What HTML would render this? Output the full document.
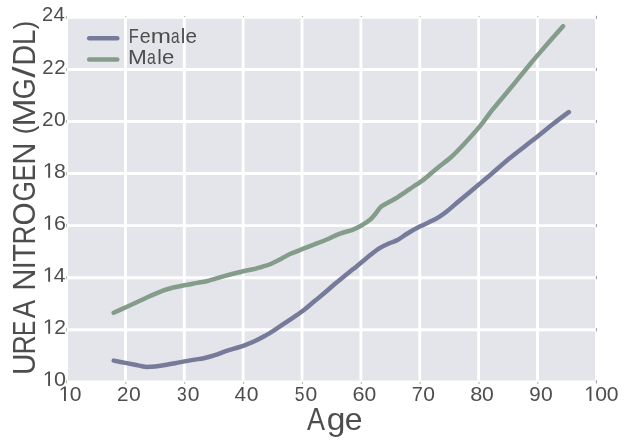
<!DOCTYPE html>
<html><head><meta charset="utf-8"><title>Urea Nitrogen by Age</title>
<style>
html,body{margin:0;padding:0;background:#fff;}
body{width:624px;height:443px;position:relative;overflow:hidden;font-family:"Liberation Sans",sans-serif;}
svg{position:absolute;left:0;top:0;}
</style></head><body>
<svg width="624" height="443" viewBox="0 0 624 443">
<rect x="68.0" y="18.8" width="527.0" height="361.7" fill="#e4e4eb"/>
<line x1="125.46" x2="125.46" y1="18.8" y2="380.5" stroke="#fff" stroke-width="2.9"/>
<line x1="184.32" x2="184.32" y1="18.8" y2="380.5" stroke="#fff" stroke-width="2.9"/>
<line x1="243.18" x2="243.18" y1="18.8" y2="380.5" stroke="#fff" stroke-width="2.9"/>
<line x1="302.04" x2="302.04" y1="18.8" y2="380.5" stroke="#fff" stroke-width="2.9"/>
<line x1="360.90" x2="360.90" y1="18.8" y2="380.5" stroke="#fff" stroke-width="2.9"/>
<line x1="419.76" x2="419.76" y1="18.8" y2="380.5" stroke="#fff" stroke-width="2.9"/>
<line x1="478.62" x2="478.62" y1="18.8" y2="380.5" stroke="#fff" stroke-width="2.9"/>
<line x1="537.48" x2="537.48" y1="18.8" y2="380.5" stroke="#fff" stroke-width="2.9"/>
<line y1="329.74" y2="329.74" x1="68.0" x2="595.0" stroke="#fff" stroke-width="2.9"/>
<line y1="277.68" y2="277.68" x1="68.0" x2="595.0" stroke="#fff" stroke-width="2.9"/>
<line y1="225.62" y2="225.62" x1="68.0" x2="595.0" stroke="#fff" stroke-width="2.9"/>
<line y1="173.56" y2="173.56" x1="68.0" x2="595.0" stroke="#fff" stroke-width="2.9"/>
<line y1="121.50" y2="121.50" x1="68.0" x2="595.0" stroke="#fff" stroke-width="2.9"/>
<line y1="69.44" y2="69.44" x1="68.0" x2="595.0" stroke="#fff" stroke-width="2.9"/>
<rect x="595.9" y="380.20" width="1.1" height="3.2" fill="#a2a2a2"/>
<rect x="66.0" y="380.20" width="1.0" height="3.2" fill="#bbb"/>
<rect x="595.9" y="328.14" width="1.1" height="3.2" fill="#a2a2a2"/>
<rect x="66.0" y="328.14" width="1.0" height="3.2" fill="#bbb"/>
<rect x="595.9" y="276.08" width="1.1" height="3.2" fill="#a2a2a2"/>
<rect x="66.0" y="276.08" width="1.0" height="3.2" fill="#bbb"/>
<rect x="595.9" y="224.02" width="1.1" height="3.2" fill="#a2a2a2"/>
<rect x="66.0" y="224.02" width="1.0" height="3.2" fill="#bbb"/>
<rect x="595.9" y="171.96" width="1.1" height="3.2" fill="#a2a2a2"/>
<rect x="66.0" y="171.96" width="1.0" height="3.2" fill="#bbb"/>
<rect x="595.9" y="119.90" width="1.1" height="3.2" fill="#a2a2a2"/>
<rect x="66.0" y="119.90" width="1.0" height="3.2" fill="#bbb"/>
<rect x="595.9" y="67.84" width="1.1" height="3.2" fill="#a2a2a2"/>
<rect x="66.0" y="67.84" width="1.0" height="3.2" fill="#bbb"/>
<rect x="595.9" y="15.78" width="1.1" height="3.2" fill="#a2a2a2"/>
<rect x="66.0" y="15.78" width="1.0" height="3.2" fill="#bbb"/>
<rect x="125.36" y="16" width="1" height="1" fill="#a6a6a6"/>
<rect x="125.36" y="382" width="1" height="2" fill="#b0b0b0"/>
<rect x="184.22" y="16" width="1" height="1" fill="#a6a6a6"/>
<rect x="184.22" y="382" width="1" height="2" fill="#b0b0b0"/>
<rect x="243.08" y="16" width="1" height="1" fill="#a6a6a6"/>
<rect x="243.08" y="382" width="1" height="2" fill="#b0b0b0"/>
<rect x="301.94" y="16" width="1" height="1" fill="#a6a6a6"/>
<rect x="301.94" y="382" width="1" height="2" fill="#b0b0b0"/>
<rect x="360.80" y="16" width="1" height="1" fill="#a6a6a6"/>
<rect x="360.80" y="382" width="1" height="2" fill="#b0b0b0"/>
<rect x="419.66" y="16" width="1" height="1" fill="#a6a6a6"/>
<rect x="419.66" y="382" width="1" height="2" fill="#b0b0b0"/>
<rect x="478.52" y="16" width="1" height="1" fill="#a6a6a6"/>
<rect x="478.52" y="382" width="1" height="2" fill="#b0b0b0"/>
<rect x="537.38" y="16" width="1" height="1" fill="#a6a6a6"/>
<rect x="537.38" y="382" width="1" height="2" fill="#b0b0b0"/>
<path d="M113.70,312.80 C115.63,311.92 121.37,309.30 125.30,307.50 C129.23,305.70 133.07,303.95 137.30,302.00 C141.53,300.05 146.53,297.67 150.70,295.80 C154.87,293.93 158.97,292.07 162.30,290.80 C165.63,289.53 167.05,289.12 170.70,288.20 C174.35,287.28 179.77,286.18 184.20,285.30 C188.63,284.42 193.42,283.62 197.30,282.90 C201.18,282.18 202.88,282.17 207.50,281.00 C212.12,279.83 219.04,277.53 225.00,275.90 C230.96,274.27 238.25,272.37 243.25,271.20 C248.25,270.03 251.88,269.63 255.00,268.90 C258.12,268.17 259.50,267.58 262.00,266.80 C264.50,266.02 266.45,265.73 270.00,264.20 C273.55,262.67 279.97,259.30 283.30,257.60 C286.63,255.90 286.88,255.40 290.00,254.00 C293.12,252.60 297.83,250.83 302.00,249.20 C306.17,247.57 310.75,245.87 315.00,244.20 C319.25,242.53 323.33,240.97 327.50,239.20 C331.67,237.43 335.83,235.17 340.00,233.60 C344.17,232.03 349.00,231.10 352.50,229.80 C356.00,228.50 358.08,227.47 361.00,225.80 C363.92,224.13 367.46,221.97 370.00,219.80 C372.54,217.63 374.38,215.02 376.25,212.80 C378.12,210.58 378.96,208.38 381.25,206.50 C383.54,204.62 387.29,203.03 390.00,201.50 C392.71,199.97 395.00,198.83 397.50,197.30 C400.00,195.77 402.58,193.93 405.00,192.30 C407.42,190.67 409.54,189.17 412.00,187.50 C414.46,185.83 417.58,183.80 419.75,182.30 C421.92,180.80 422.04,180.88 425.00,178.50 C427.96,176.12 433.12,171.58 437.50,168.00 C441.88,164.42 447.08,160.72 451.25,157.00 C455.42,153.28 457.96,150.55 462.50,145.70 C467.04,140.85 473.50,133.90 478.50,127.90 C483.50,121.90 487.67,115.73 492.50,109.70 C497.33,103.67 502.00,98.35 507.50,91.70 C513.00,85.05 520.54,75.82 525.50,69.80 C530.46,63.78 531.00,62.88 537.25,55.60 C543.50,48.33 558.71,31.06 563.00,26.15" fill="none" stroke="#849d8a" stroke-width="4.5" stroke-linecap="round" stroke-linejoin="round"/>
<path d="M113.70,360.60 C115.65,360.98 121.85,362.20 125.40,362.90 C128.95,363.60 132.23,364.25 135.00,364.80 C137.77,365.35 140.08,365.85 142.00,366.20 C143.92,366.55 145.00,366.82 146.50,366.90 C148.00,366.98 149.25,366.82 151.00,366.70 C152.75,366.58 154.67,366.48 157.00,366.20 C159.33,365.92 162.00,365.50 165.00,365.00 C168.00,364.50 171.77,363.80 175.00,363.20 C178.23,362.60 181.07,362.00 184.40,361.40 C187.73,360.80 191.78,360.13 195.00,359.60 C198.22,359.07 200.42,358.93 203.75,358.20 C207.08,357.47 211.46,356.33 215.00,355.20 C218.54,354.07 221.67,352.55 225.00,351.40 C228.33,350.25 231.96,349.23 235.00,348.30 C238.04,347.37 239.92,347.02 243.25,345.80 C246.58,344.58 251.38,342.67 255.00,341.00 C258.62,339.33 262.08,337.40 265.00,335.80 C267.92,334.20 268.75,333.82 272.50,331.40 C276.25,328.98 282.54,324.67 287.50,321.30 C292.46,317.93 297.67,314.63 302.25,311.20 C306.83,307.77 311.21,303.82 315.00,300.70 C318.79,297.58 321.67,295.32 325.00,292.50 C328.33,289.68 332.50,285.92 335.00,283.80 C337.50,281.68 337.08,282.17 340.00,279.80 C342.92,277.43 349.00,272.43 352.50,269.60 C356.00,266.77 358.08,265.18 361.00,262.80 C363.92,260.42 366.83,257.78 370.00,255.30 C373.17,252.82 376.67,249.95 380.00,247.90 C383.33,245.85 387.08,244.32 390.00,243.00 C392.92,241.68 394.58,241.58 397.50,240.00 C400.42,238.42 403.79,235.73 407.50,233.50 C411.21,231.27 415.58,228.75 419.75,226.60 C423.92,224.45 429.12,222.32 432.50,220.60 C435.88,218.88 437.58,217.85 440.00,216.30 C442.42,214.75 443.88,213.80 447.00,211.30 C450.12,208.80 453.50,205.72 458.75,201.30 C464.00,196.88 472.88,189.52 478.50,184.80 C484.12,180.08 487.67,177.13 492.50,173.00 C497.33,168.87 502.08,164.47 507.50,160.00 C512.92,155.53 520.04,150.08 525.00,146.20 C529.96,142.32 532.53,140.43 537.25,136.70 C541.97,132.97 548.04,127.90 553.30,123.80 C558.56,119.70 566.22,114.05 568.80,112.10" fill="none" stroke="#767b9a" stroke-width="4.5" stroke-linecap="round" stroke-linejoin="round"/>
<line x1="89.2" x2="117.3" y1="38.35" y2="38.35" stroke="#767b9a" stroke-width="4.5" stroke-linecap="round"/>
<line x1="89.2" x2="117.3" y1="59.6" y2="59.6" stroke="#849d8a" stroke-width="4.5" stroke-linecap="round"/>
<g fill="#4d4d4d" font-family="Liberation Sans, sans-serif" opacity="0.999">
<path d="M64.01,400.90 L64.01,388.34 L60.70,390.64 L60.70,388.92 L64.17,386.59 L65.90,386.59 L65.90,400.90Z"/>
<path d="M589.51,400.90 L589.51,388.34 L586.20,390.64 L586.20,388.92 L589.67,386.59 L591.40,386.59 L591.40,400.90Z"/>
<path d="M48.15,385.90 L48.15,373.34 L44.90,375.64 L44.90,373.92 L48.30,371.59 L50.00,371.59 L50.00,385.90Z"/>
<path d="M48.21,333.84 L48.21,321.28 L44.90,323.58 L44.90,321.86 L48.37,319.53 L50.10,319.53 L50.10,333.84Z"/>
<path d="M48.18,281.78 L48.18,269.22 L44.80,271.52 L44.80,269.80 L48.34,267.47 L50.10,267.47 L50.10,281.78Z"/>
<path d="M48.18,229.72 L48.18,217.16 L44.80,219.46 L44.80,217.74 L48.34,215.41 L50.10,215.41 L50.10,229.72Z"/>
<path d="M48.18,177.66 L48.18,165.10 L44.80,167.40 L44.80,165.68 L48.34,163.35 L50.10,163.35 L50.10,177.66Z"/>
<text x="117.02" y="400.90" font-size="20.8" textLength="11.48" lengthAdjust="spacingAndGlyphs">2</text>
<text x="128.98" y="400.90" font-size="20.8" textLength="11.75" lengthAdjust="spacingAndGlyphs">0</text>
<text x="176.95" y="400.90" font-size="20.8" textLength="9.74" lengthAdjust="spacingAndGlyphs">3</text>
<text x="187.84" y="400.90" font-size="20.8" textLength="11.75" lengthAdjust="spacingAndGlyphs">0</text>
<text x="234.50" y="400.90" font-size="20.8" textLength="11.59" lengthAdjust="spacingAndGlyphs">4</text>
<text x="246.70" y="400.90" font-size="20.8" textLength="11.75" lengthAdjust="spacingAndGlyphs">0</text>
<text x="294.84" y="400.90" font-size="20.8" textLength="9.74" lengthAdjust="spacingAndGlyphs">5</text>
<text x="305.56" y="400.90" font-size="20.8" textLength="11.75" lengthAdjust="spacingAndGlyphs">0</text>
<text x="352.40" y="400.90" font-size="20.8" textLength="12.05" lengthAdjust="spacingAndGlyphs">6</text>
<text x="364.42" y="400.90" font-size="20.8" textLength="11.75" lengthAdjust="spacingAndGlyphs">0</text>
<text x="411.63" y="400.90" font-size="20.8" textLength="11.13" lengthAdjust="spacingAndGlyphs">7</text>
<text x="423.28" y="400.90" font-size="20.8" textLength="11.75" lengthAdjust="spacingAndGlyphs">0</text>
<text x="470.38" y="400.90" font-size="20.8" textLength="12.09" lengthAdjust="spacingAndGlyphs">8</text>
<text x="482.14" y="400.90" font-size="20.8" textLength="11.75" lengthAdjust="spacingAndGlyphs">0</text>
<text x="529.32" y="400.90" font-size="20.8" textLength="11.44" lengthAdjust="spacingAndGlyphs">9</text>
<text x="541.00" y="400.90" font-size="20.8" textLength="11.75" lengthAdjust="spacingAndGlyphs">0</text>
<text x="69.87" y="400.90" font-size="20.8" textLength="11.75" lengthAdjust="spacingAndGlyphs">0</text>
<text x="595.37" y="400.90" font-size="20.8" textLength="11.75" lengthAdjust="spacingAndGlyphs">0</text>
<text x="606.87" y="400.90" font-size="20.8" textLength="11.75" lengthAdjust="spacingAndGlyphs">0</text>
<text x="54.06" y="385.90" font-size="20.8" textLength="11.98" lengthAdjust="spacingAndGlyphs">0</text>
<text x="54.34" y="333.84" font-size="20.8" textLength="11.72" lengthAdjust="spacingAndGlyphs">2</text>
<text x="53.66" y="281.78" font-size="20.8" textLength="11.75" lengthAdjust="spacingAndGlyphs">4</text>
<text x="54.01" y="229.72" font-size="20.8" textLength="11.93" lengthAdjust="spacingAndGlyphs">6</text>
<text x="54.07" y="177.66" font-size="20.8" textLength="11.85" lengthAdjust="spacingAndGlyphs">8</text>
<text x="41.95" y="125.60" font-size="20.8" textLength="11.60" lengthAdjust="spacingAndGlyphs">2</text>
<text x="53.97" y="125.60" font-size="20.8" textLength="11.75" lengthAdjust="spacingAndGlyphs">0</text>
<text x="42.27" y="73.54" font-size="20.8" textLength="11.35" lengthAdjust="spacingAndGlyphs">2</text>
<text x="54.16" y="73.54" font-size="20.8" textLength="11.48" lengthAdjust="spacingAndGlyphs">2</text>
<text x="42.04" y="21.48" font-size="20.8" textLength="11.17" lengthAdjust="spacingAndGlyphs">2</text>
<text x="53.48" y="21.48" font-size="20.8" textLength="11.42" lengthAdjust="spacingAndGlyphs">4</text>
<text x="306.91" y="429.60" font-size="31.2" textLength="18.05" lengthAdjust="spacingAndGlyphs">A</text>
<text x="326.69" y="429.60" font-size="31.2" textLength="18.67" lengthAdjust="spacingAndGlyphs">g</text>
<text x="344.84" y="429.60" font-size="31.2" textLength="17.78" lengthAdjust="spacingAndGlyphs">e</text>
<text x="128.80" y="42.60" font-size="19.8" textLength="10.06" lengthAdjust="spacingAndGlyphs">F</text>
<text x="139.67" y="42.60" font-size="19.8" textLength="10.90" lengthAdjust="spacingAndGlyphs">e</text>
<text x="150.69" y="42.60" font-size="19.8" textLength="20.21" lengthAdjust="spacingAndGlyphs">m</text>
<text x="171.05" y="42.60" font-size="19.8" textLength="8.55" lengthAdjust="spacingAndGlyphs">a</text>
<text x="180.72" y="42.60" font-size="19.8" textLength="4.55" lengthAdjust="spacingAndGlyphs">l</text>
<text x="185.62" y="42.60" font-size="19.8" textLength="11.50" lengthAdjust="spacingAndGlyphs">e</text>
<text x="128.05" y="64.00" font-size="19.8" textLength="18.80" lengthAdjust="spacingAndGlyphs">M</text>
<text x="146.93" y="64.00" font-size="19.8" textLength="8.77" lengthAdjust="spacingAndGlyphs">a</text>
<text x="157.22" y="64.00" font-size="19.8" textLength="4.55" lengthAdjust="spacingAndGlyphs">l</text>
<text x="162.06" y="64.00" font-size="19.8" textLength="12.33" lengthAdjust="spacingAndGlyphs">e</text>
<text transform="translate(34.60,375.10) rotate(-90)" font-size="31.2" textLength="21.49" lengthAdjust="spacingAndGlyphs">U</text>
<text transform="translate(34.60,354.58) rotate(-90)" font-size="31.2" textLength="19.22" lengthAdjust="spacingAndGlyphs">R</text>
<text transform="translate(34.60,335.98) rotate(-90)" font-size="31.2" textLength="15.26" lengthAdjust="spacingAndGlyphs">E</text>
<text transform="translate(34.60,318.35) rotate(-90)" font-size="31.2" textLength="18.41" lengthAdjust="spacingAndGlyphs">A</text>
<text transform="translate(34.60,290.73) rotate(-90)" font-size="31.2" textLength="22.24" lengthAdjust="spacingAndGlyphs">N</text>
<text transform="translate(34.60,269.17) rotate(-90)" font-size="31.2" textLength="8.04" lengthAdjust="spacingAndGlyphs">I</text>
<text transform="translate(34.60,261.75) rotate(-90)" font-size="31.2" textLength="17.61" lengthAdjust="spacingAndGlyphs">T</text>
<text transform="translate(34.60,244.21) rotate(-90)" font-size="31.2" textLength="18.61" lengthAdjust="spacingAndGlyphs">R</text>
<text transform="translate(34.60,225.41) rotate(-90)" font-size="31.2" textLength="23.13" lengthAdjust="spacingAndGlyphs">O</text>
<text transform="translate(34.60,201.43) rotate(-90)" font-size="31.2" textLength="20.49" lengthAdjust="spacingAndGlyphs">G</text>
<text transform="translate(34.60,181.36) rotate(-90)" font-size="31.2" textLength="16.74" lengthAdjust="spacingAndGlyphs">E</text>
<text transform="translate(34.60,164.63) rotate(-90)" font-size="31.2" textLength="22.24" lengthAdjust="spacingAndGlyphs">N</text>
<text transform="translate(33.00,134.19) rotate(-90)" font-size="28.1" textLength="8.54" lengthAdjust="spacingAndGlyphs">(</text>
<text transform="translate(34.60,126.55) rotate(-90)" font-size="31.2" textLength="27.89" lengthAdjust="spacingAndGlyphs">M</text>
<text transform="translate(34.60,99.36) rotate(-90)" font-size="31.2" textLength="20.97" lengthAdjust="spacingAndGlyphs">G</text>
<text transform="translate(34.60,77.70) rotate(-90)" font-size="31.2" textLength="11.20" lengthAdjust="spacingAndGlyphs">/</text>
<text transform="translate(34.60,65.44) rotate(-90)" font-size="31.2" textLength="20.61" lengthAdjust="spacingAndGlyphs">D</text>
<text transform="translate(34.60,45.07) rotate(-90)" font-size="31.2" textLength="15.39" lengthAdjust="spacingAndGlyphs">L</text>
<text transform="translate(33.00,29.35) rotate(-90)" font-size="28.1" textLength="8.42" lengthAdjust="spacingAndGlyphs">)</text>
</g>
</svg>
</body></html>
